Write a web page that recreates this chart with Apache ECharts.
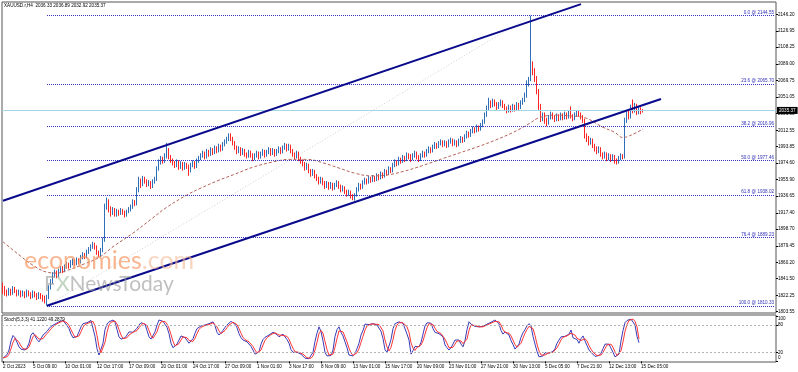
<!DOCTYPE html>
<html><head><meta charset="utf-8">
<script src="https://cdn.jsdelivr.net/npm/echarts@6/dist/echarts.min.js"></script>
<style>html,body{margin:0;padding:0;background:#fff}#c{width:798px;height:372px}</style>
</head><body><div id="c"></div>
<script>
// ---------- DATA ----------
const headerText = 'XAUUSD.r,H4  2036.33 2036.89 2032.92 2035.37';
const stochTitle = 'Stoch(5,3,3) 41.1220 49.2879';
const N_SLOTS = 387; // bar slots across the chart (incl. empty right margin)

const opens = [1831,1829,1826,1824,1828,1825,1830,1827,1824,1826,
1823,1825,1822,1826,1824,1821,1825,1823,1820,1823,
1821,1819,1816,1820,1831,1838,1846,1849,1845,1850,
1853,1851,1855,1858,1856,1860,1862,1859,1863,1861,
1866,1869,1867,1872,1875,1878,1881,1878,1872,1869,
1874,1886,1925,1930,1922,1918,1921,1916,1919,1917,
1920,1918,1915,1919,1921,1924,1930,1928,1944,1955,
1950,1957,1954,1950,1952,1948,1953,1956,1968,1976,
1980,1977,1983,1990,1982,1978,1975,1972,1976,1970,
1974,1969,1973,1971,1966,1972,1975,1971,1977,1980,
1983,1986,1982,1988,1985,1990,1987,1992,1989,1994,
1991,1996,1999,2002,2006,2003,1998,1993,1988,1991,
1986,1989,1985,1983,1987,1984,1980,1983,1986,1982,
1985,1988,1984,1987,1990,1986,1989,1985,1988,1991,
1988,1992,1995,1991,1994,1989,1985,1982,1986,1980,
1977,1974,1969,1972,1966,1962,1965,1960,1957,1953,
1956,1952,1948,1951,1947,1950,1946,1949,1952,1948,
1944,1946,1942,1939,1941,1937,1935,1938,1944,1949,
1947,1952,1955,1953,1957,1955,1958,1956,1960,1958,
1962,1960,1965,1963,1968,1966,1972,1976,1974,1979,
1977,1981,1979,1984,1982,1980,1983,1986,1982,1979,
1983,1986,1984,1988,1991,1989,1993,1996,1994,1997,
1999,1996,1998,1995,1999,2001,1997,1999,1996,2000,
2003,2001,2005,2009,2007,2011,2014,2012,2016,2014,
2018,2022,2030,2038,2044,2041,2046,2043,2039,2042,
2045,2041,2038,2035,2039,2036,2040,2037,2042,2039,
2044,2047,2052,2066,2071,2088,2080,2072,2058,2040,
2026,2030,2024,2021,2027,2031,2028,2025,2029,2026,
2030,2027,2031,2028,2032,2029,2026,2030,2033,2031,
2028,2024,2006,2003,1998,2001,1995,1992,1988,1991,
1985,1982,1985,1980,1983,1979,1982,1977,1976,1980,
1983,1982,2024,2031,2028,2038,2036,2040,2033,2037,
2036.33];

const closes = [1829,1826,1824,1828,1825,1830,1827,1824,1826,1823,
1825,1822,1826,1824,1821,1825,1823,1820,1823,1821,
1819,1816,1820,1831,1838,1846,1849,1845,1850,1853,
1851,1855,1858,1856,1860,1862,1859,1863,1861,1866,
1869,1867,1872,1875,1878,1881,1878,1872,1869,1874,
1886,1925,1930,1922,1918,1921,1916,1919,1917,1920,
1918,1915,1919,1921,1924,1930,1928,1944,1955,1950,
1957,1954,1950,1952,1948,1953,1956,1968,1976,1980,
1977,1983,1990,1982,1978,1975,1972,1976,1970,1974,
1969,1973,1971,1966,1972,1975,1971,1977,1980,1983,
1986,1982,1988,1985,1990,1987,1992,1989,1994,1991,
1996,1999,2002,2006,2003,1998,1993,1988,1991,1986,
1989,1985,1983,1987,1984,1980,1983,1986,1982,1985,
1988,1984,1987,1990,1986,1989,1985,1988,1991,1988,
1992,1995,1991,1994,1989,1985,1982,1986,1980,1977,
1974,1969,1972,1966,1962,1965,1960,1957,1953,1956,
1952,1948,1951,1947,1950,1946,1949,1952,1948,1944,
1946,1942,1939,1941,1937,1935,1938,1944,1949,1947,
1952,1955,1953,1957,1955,1958,1956,1960,1958,1962,
1960,1965,1963,1968,1966,1972,1976,1974,1979,1977,
1981,1979,1984,1982,1980,1983,1986,1982,1979,1983,
1986,1984,1988,1991,1989,1993,1996,1994,1997,1999,
1996,1998,1995,1999,2001,1997,1999,1996,2000,2003,
2001,2005,2009,2007,2011,2014,2012,2016,2014,2018,
2022,2030,2038,2044,2041,2046,2043,2039,2042,2045,
2041,2038,2035,2039,2036,2040,2037,2042,2039,2044,
2047,2052,2066,2071,2088,2080,2072,2058,2040,2026,
2030,2024,2021,2027,2031,2028,2025,2029,2026,2030,
2027,2031,2028,2032,2029,2026,2030,2033,2031,2028,
2024,2006,2003,1998,2001,1995,1992,1988,1991,1985,
1982,1985,1980,1983,1979,1982,1977,1976,1980,1983,
1982,2024,2031,2028,2038,2036,2040,2033,2037,2034,
2035.37];

const lows = [1824,1822,1821,1822,1822,1823,1825,1821,1822,1820,
1821,1819,1820,1821,1818,1819,1820,1817,1818,1818,
1815,1813,1810.33,1818,1829,1836,1843,1842,1843,1848,
1848,1849,1853,1853,1854,1857,1856,1857,1858,1859,
1864,1864,1865,1870,1873,1876,1875,1869,1866,1867,
1872,1884,1921,1918,1913,1915,1913,1913,1914,1915,
1915,1912,1913,1917,1919,1922,1925,1926,1941,1946,
1948,1951,1947,1948,1945,1946,1951,1954,1966,1973,
1974,1975,1980,1979,1975,1972,1969,1970,1967,1968,
1966,1967,1968,1960,1964,1970,1968,1969,1975,1978,
1981,1979,1980,1982,1983,1984,1985,1986,1987,1988,
1989,1994,1997,2000,2000,1995,1990,1985,1986,1983,
1984,1982,1980,1981,1981,1977,1978,1981,1979,1980,
1983,1981,1982,1985,1983,1984,1982,1983,1986,1985,
1986,1990,1988,1989,1986,1982,1979,1980,1977,1974,
1971,1966,1967,1963,1959,1960,1957,1954,1950,1951,
1949,1945,1946,1944,1945,1943,1944,1947,1945,1941,
1942,1939,1936,1937,1934,1932,1931.5,1936,1942,1944,
1945,1950,1950,1951,1952,1953,1953,1954,1955,1956,
1957,1958,1960,1961,1963,1964,1970,1971,1972,1974,
1975,1976,1977,1979,1976,1978,1981,1979,1976,1977,
1981,1981,1982,1986,1986,1987,1991,1991,1992,1995,
1993,1994,1992,1993,1997,1994,1995,1993,1994,1998,
1998,1999,2003,2004,2005,2009,2009,2010,2011,2012,
2016,2020,2028,2036,2038,2039,2040,2036,2037,2040,
2038,2035,2032,2033,2033,2034,2034,2035,2036,2037,
2042,2045,2050,2063,2069,2076,2068,2054,2036,2022,
2023,2020,2017,2019,2025,2025,2022,2023,2023,2024,
2024,2025,2025,2026,2026,2023,2024,2028,2028,2025,
2021,2003,1999,1995,1996,1992,1988,1985,1986,1982,
1979,1980,1977,1978,1976,1977,1974,1973,1974,1978,
1979,1980,2021,2025,2026,2032,2033,2030,2031,2031,
2032.92];

const highs = [1837,1833,1829,1831,1830,1833,1832,1829,1829,1828,
1828,1827,1829,1828,1826,1828,1827,1825,1826,1825,
1823,1822,1823,1834,1841,1849,1852,1851,1853,1856,
1856,1858,1861,1860,1863,1865,1864,1866,1865,1869,
1872,1871,1875,1878,1881,1884,1883,1880,1874,1877,
1889,1928,1935,1933,1925,1924,1923,1922,1921,1923,
1922,1920,1921,1924,1927,1933,1932,1947,1959,1957,
1960,1959,1956,1955,1954,1956,1959,1971,1979,1983,
1982,1986,1998,1992,1984,1980,1977,1979,1978,1977,
1976,1976,1975,1973,1975,1978,1977,1980,1983,1986,
1989,1988,1991,1990,1993,1992,1995,1994,1997,1996,
1999,2002,2005,2009,2009,2005,2000,1995,1994,1993,
1992,1991,1987,1990,1989,1986,1986,1989,1988,1988,
1991,1990,1990,1993,1992,1992,1991,1991,1994,1993,
1995,1998,1997,1997,1996,1991,1987,1989,1988,1982,
1979,1976,1975,1974,1968,1968,1967,1962,1959,1959,
1958,1954,1954,1953,1953,1952,1952,1955,1954,1950,
1949,1948,1944,1944,1943,1939,1940,1947,1952,1951,
1955,1958,1957,1960,1959,1961,1960,1963,1962,1965,
1964,1968,1967,1971,1970,1975,1979,1978,1982,1981,
1984,1983,1987,1986,1985,1986,1989,1988,1984,1986,
1989,1988,1991,1994,1993,1996,1999,1998,2000,2002,
2001,2001,2000,2002,2004,2003,2002,2001,2003,2006,
2005,2008,2012,2011,2014,2017,2016,2019,2018,2021,
2025,2033,2041,2050,2047,2049,2048,2045,2045,2048,
2047,2043,2040,2042,2041,2043,2042,2045,2044,2047,
2050,2056,2070,2074,2144.55,2092,2084,2075,2060,2043,
2033,2033,2027,2030,2034,2033,2030,2032,2031,2033,
2032,2034,2033,2035,2040,2031,2033,2036,2035,2033,
2030,2026,2009,2006,2004,2003,1997,1994,1994,1993,
1987,1988,1987,1986,1985,1985,1984,1980,1983,1986,
1985,2027,2034,2035,2042,2048,2044,2043,2040,2039,
2036.89];

// moving average (sampled readings: bar index / value)
const maIdx = [0,8,15,22,27,32,40,48,56,65,74,82,92,99,108,116,125,135,143,152,160,168,176,184,192,200,210,220,229,238,246,255,263,268,276,284,291,300,306,310,312,316,320];
const maVal = [1884,1869,1857,1849,1848,1851,1858,1866,1880,1894,1910,1924,1938,1946,1955,1962,1970,1976,1979,1979,1975,1969,1963,1960,1961,1965,1972,1980,1987,1994,2001,2010,2020,2027,2030,2029,2027,2016,2010,2004,2005,2009,2014];

// Stochastic %K and %D
const stochK = [7,8,15,25,45,57,52,42,32,27,
25,25,30,40,58,63,56,48,43,50,
58,60,66,72,77,80,82,85,87,89,
90,86,79,72,60,52,48,55,65,76,
83,83,85,87,90,88,55,28,14,16,
40,70,82,87,90,91,86,70,54,49,
47,52,58,65,62,64,68,73,80,85,
86,82,68,54,49,50,65,80,91,91,
88,84,75,61,40,30,31,38,47,56,
58,52,46,40,42,50,62,72,76,78,
80,80,81,83,85,87,78,64,58,62,
68,75,80,84,88,87,82,74,61,52,
47,45,43,40,33,25,16,16,21,38,
48,53,56,58,62,64,62,59,54,58,
60,58,48,40,26,20,18,20,21,16,
12,7,6,6,10,20,44,62,76,66,
45,20,12,10,13,25,55,70,76,64,
56,43,30,14,12,12,17,28,40,58,
68,82,84,81,82,83,80,80,84,66,
50,26,20,24,48,72,83,85,87,85,
84,84,60,47,16,24,33,35,32,42,
60,78,85,87,84,72,64,63,61,58,
54,36,30,25,30,38,47,50,47,38,
32,46,70,87,82,79,77,76,76,76,
77,80,82,83,86,88,91,88,83,68,
60,65,63,58,46,37,27,30,38,53,
63,70,78,83,78,55,38,22,10,10,
12,19,20,18,20,22,28,40,47,54,
57,55,56,60,69,52,54,48,40,50,
56,45,35,25,20,16,11,12,13,18,
28,38,41,38,34,20,10,9,16,45,
68,85,90,94,93,92,80,55,41.12];
const stochD = [8,8,10,16,28,42,51,50,42,34,
28,26,27,32,43,54,59,56,49,47,
50,56,61,66,72,76,80,82,85,87,
89,88,85,79,70,61,53,52,56,65,
75,81,84,85,87,88,78,57,32,19,
23,42,64,80,86,89,89,82,70,58,
50,49,52,58,62,64,65,68,74,79,
84,84,79,68,57,51,55,65,79,87,
90,88,82,73,59,44,34,33,39,47,
54,55,52,46,43,44,51,61,70,75,
78,79,80,81,83,85,83,76,67,61,
63,68,74,80,84,86,86,81,72,62,
53,48,45,43,39,33,25,19,18,25,
36,46,52,56,59,61,63,62,58,57,
57,59,55,49,38,29,21,19,20,19,
16,12,8,6,7,12,25,42,61,68,
62,44,26,14,12,16,31,50,67,70,
65,54,43,29,19,13,14,19,28,42,
55,69,78,82,82,82,82,81,81,77,
67,47,32,23,31,48,68,80,85,86,
85,84,76,64,41,29,24,31,33,36,
45,60,74,83,85,81,73,66,63,61,
58,49,40,30,28,31,38,45,48,45,
39,39,49,68,80,83,79,77,76,76,
76,78,80,82,84,86,88,89,87,80,
70,64,63,62,56,47,37,31,32,40,
51,62,70,77,80,72,57,38,23,14,
11,14,17,19,19,20,23,30,38,47,
53,55,56,57,62,60,58,51,47,46,
49,50,45,35,27,20,16,13,12,14,
20,28,36,39,38,31,21,13,12,23,
43,66,81,90,92,93,88,76,49.29];

// Fibonacci retracement
const fibStartIdx = 22;
const fibLevels = [2144.55, 2065.70, 2016.96, 1977.46, 1938.02, 1889.23, 1810.33];
const fibLabels = ['0.0 @ 2144.55','23.6 @ 2065.70','38.2 @ 2016.96','50.0 @ 1977.46','61.8 @ 1938.02','76.4 @ 1889.23','100.0 @ 1810.33'];
const fibTrend = [[22, 1810.33], [264, 2144.55]];

// Channel trend lines [barIndex, price]
const channelUpper = [[0, 1931.3], [289, 2157.9]];
const channelLower = [[22, 1810.33], [329, 2048.5]];

// Axis ticks
const yTickLabels = ['1803.55','1822.25','1841.50','1860.20','1879.45','1898.70','1917.40','1936.65','1955.90','1974.60','1993.85','2012.55','2031.80','2051.05','2069.75','2089.00','2108.25','2126.95','2146.20'];
const stochTickVals = [0, 20, 80, 100];
const xTickIdx = [0,15,31,47,63,79,95,111,127,143,159,175,191,207,223,239,255,271,287,303,319];
const xTickLabels = ['2 Oct 2023','5 Oct 09:00','10 Oct 01:00','12 Oct 17:00','17 Oct 09:00','20 Oct 01:00','24 Oct 17:00','27 Oct 09:00','1 Nov 01:00','3 Nov 17:00','8 Nov 09:00','13 Nov 01:00','15 Nov 17:00','20 Nov 09:00','23 Nov 01:00','27 Nov 21:00','30 Nov 13:00','5 Dec 05:00','7 Dec 21:00','12 Dec 13:00','15 Dec 05:00'];

// ---------- BUILD ----------
const categories = Array.from({length: N_SLOTS}, (_, i) => String(i));
const tickMap = {};
xTickIdx.forEach((v, k) => { tickMap[String(v)] = xTickLabels[k]; });
const candleData = closes.map((c, i) => [opens[i], c, lows[i], highs[i]]);
const maData = maIdx.map((x, k) => [x, maVal[k]]);
const lastClose = closes[closes.length - 1];
const yTickVals = yTickLabels.map(parseFloat);

const FONT = 'Liberation Sans';
const FS = 4.6;
const lbl = {fontSize: FS, fontFamily: FONT, color: '#000'};

const chart = echarts.init(document.getElementById('c'), null, {renderer: 'canvas'});
chart.setOption({
  animation: false,
  backgroundColor: '#ffffff',
  grid: [
    {left: 2, top: 2, width: 774, height: 311, show: true, borderColor: '#555', borderWidth: 1},
    {left: 2, top: 315, width: 774, height: 47, show: true, borderColor: '#555', borderWidth: 1}
  ],
  xAxis: [
    {type: 'category', gridIndex: 0, data: categories, boundaryGap: true,
     axisLine: {show: false}, axisTick: {show: false}, axisLabel: {show: false}, splitLine: {show: false}},
    {type: 'category', gridIndex: 1, data: categories, boundaryGap: true,
     axisLine: {show: false},
     axisTick: {show: true, alignWithLabel: true, length: 2, interval: (i, v) => (v in tickMap), lineStyle: {color: '#000'}},
     axisLabel: Object.assign({interval: (i, v) => (v in tickMap), formatter: (v) => tickMap[v] || '', align: 'left', margin: 2}, lbl),
     splitLine: {show: false}}
  ],
  yAxis: [
    {type: 'value', gridIndex: 0, position: 'right', min: 1802, max: 2160.3, scale: true,
     splitLine: {show: false}, axisLine: {show: false},
     axisTick: {show: true, length: 2, customValues: yTickVals, lineStyle: {color: '#000'}},
     axisLabel: Object.assign({customValues: yTickVals, formatter: (v) => v.toFixed(2), margin: 2}, lbl)},
    {type: 'value', gridIndex: 1, position: 'right', min: -1.3, max: 102,
     splitLine: {show: false}, axisLine: {show: false},
     axisTick: {show: true, length: 2, customValues: stochTickVals, lineStyle: {color: '#000'}},
     axisLabel: Object.assign({customValues: stochTickVals, margin: 2,
       formatter: (v) => v === 100 ? '{hi|100}' : (v === 0 ? '{lo|0}' : String(v)),
       rich: {hi: {fontSize: FS, fontFamily: FONT, padding: [5, 0, 0, 0]}, lo: {fontSize: FS, fontFamily: FONT, padding: [0, 0, 7, 0]}}}, lbl)}
  ],
  series: [
    {name: 'fibTrend', type: 'line', xAxisIndex: 0, yAxisIndex: 0, data: fibTrend, showSymbol: false, silent: true, z: 1,
     lineStyle: {color: '#cfcfcf', width: 1, type: [1, 2]},
     markLine: {symbol: ['none', 'none'], silent: true, animation: false,
       lineStyle: {color: '#3434c8', width: 1, type: [1, 1]},
       label: {show: true, position: 'insideEndTop', formatter: '{b}', fontSize: FS, fontFamily: FONT, color: '#3030b8', distance: [1, 0.5]},
       data: fibLevels.map((lv, k) => [{coord: [fibStartIdx, lv], name: fibLabels[k]}, {coord: [N_SLOTS - 1, lv]}])}},
    {name: 'price', type: 'candlestick', xAxisIndex: 0, yAxisIndex: 0, data: candleData, barWidth: 1, z: 3,
     itemStyle: {color: '#2f6fb8', color0: '#ff2424', borderColor: '#2f6fb8', borderColor0: '#ff2424', borderWidth: 1},
     markLine: {symbol: ['none', 'none'], silent: true, animation: false,
       data: [{yAxis: lastClose}],
       lineStyle: {color: '#a6d6e6', width: 1, type: 'solid'},
       label: {show: true, position: 'end', formatter: lastClose.toFixed(2), backgroundColor: '#000', color: '#fff',
               fontSize: FS, fontFamily: FONT, padding: [1, 2, 1, 2], distance: 1}}},
    {name: 'ma', type: 'line', xAxisIndex: 0, yAxisIndex: 0, data: maData, showSymbol: false, smooth: 0.4, silent: true, z: 4,
     lineStyle: {color: '#b5645a', width: 1, type: [3, 2]}},
    {name: 'chUp', type: 'line', xAxisIndex: 0, yAxisIndex: 0, data: channelUpper, showSymbol: false, silent: true, z: 5,
     lineStyle: {color: '#0a0a8c', width: 2}},
    {name: 'chLo', type: 'line', xAxisIndex: 0, yAxisIndex: 0, data: channelLower, showSymbol: false, silent: true, z: 5,
     lineStyle: {color: '#0a0a8c', width: 2}},
    {name: 'K', type: 'line', xAxisIndex: 1, yAxisIndex: 1, data: stochK, showSymbol: false, silent: true, z: 3,
     lineStyle: {color: '#3a3ab8', width: 1},
     markLine: {symbol: ['none', 'none'], silent: true, animation: false, label: {show: false},
       lineStyle: {color: '#b4b4b4', width: 1, type: [2, 2]},
       data: [{yAxis: 20}, {yAxis: 80}]}},
    {name: 'D', type: 'line', xAxisIndex: 1, yAxisIndex: 1, data: stochD, showSymbol: false, silent: true, z: 4,
     lineStyle: {color: '#ff3434', width: 1}}
  ],
  graphic: [
    {type: 'text', left: 4, top: 3, z: 100, style: {text: headerText, font: FS + 'px ' + FONT, fill: '#000'}},
    {type: 'text', left: 4, top: 317, z: 100, style: {text: stochTitle, font: FS + 'px ' + FONT, fill: '#000'}},
    {type: 'text', left: 24, top: 248, z: 50, style: {
      text: '{a|economies}{b|.com}',
      rich: {a: {fontSize: 25, fontFamily: 'Lato', fill: 'rgba(245,150,95,0.7)'}, b: {fontSize: 25, fontFamily: 'Lato', fill: 'rgba(245,185,150,0.6)'}}}},
    {type: 'text', left: 44, top: 274, z: 50, style: {
      text: '{f|F}{x|X}{n|NewsToday}',
      rich: {f: {fontSize: 21, fontFamily: 'Lato', fill: 'rgba(150,150,150,0.6)'},
             x: {fontSize: 21, fontFamily: 'Lato', fill: 'rgba(140,180,140,0.55)'},
             n: {fontSize: 21, fontFamily: 'Lato', fill: 'rgba(150,150,150,0.6)'}}}}
  ]
});
</script></body></html>
